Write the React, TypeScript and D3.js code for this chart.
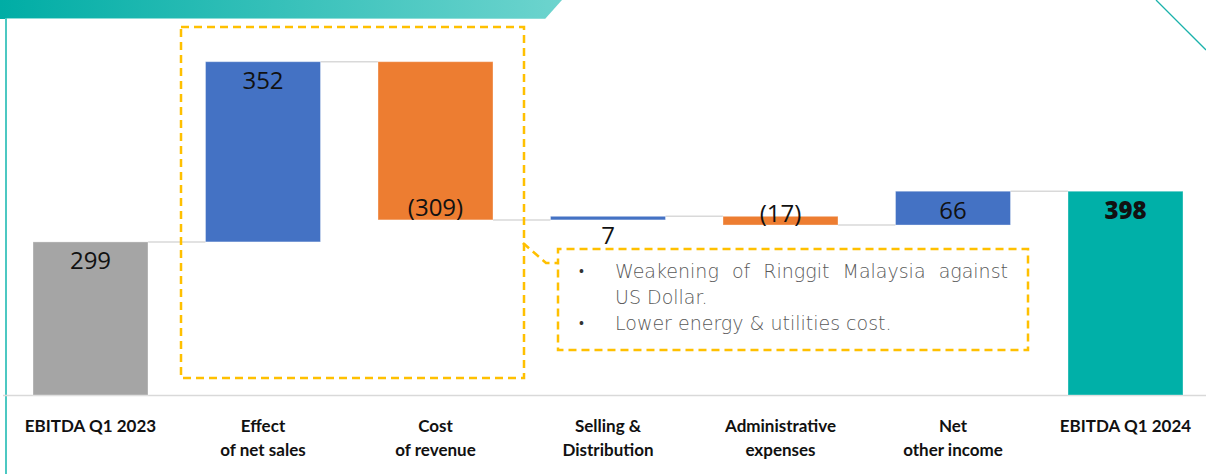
import React, { useRef, useEffect } from 'react';
import * as d3 from 'd3';

// Chart data
const categories = [
  'EBITDA Q1 2023',
  'Effect of net sales',
  'Cost of revenue',
  'Selling & Distribution',
  'Administrative expenses',
  'Net other income',
  'EBITDA Q1 2024'
];
const categoryLines: string[][] = [
  ['EBITDA Q1 2023'],
  ['Effect', 'of net sales'],
  ['Cost', 'of revenue'],
  ['Selling &', 'Distribution'],
  ['Administrative', 'expenses'],
  ['Net', 'other income'],
  ['EBITDA Q1 2024']
];
const values = [299, 352, -309, 7, -17, 66, 398];
const kinds = ['total', 'delta', 'delta', 'delta', 'delta', 'delta', 'total'];
const valueLabels = ['299', '352', '(309)', '7', '(17)', '66', '398'];
const noteLines = [
  { bullet: true, text: 'Weakening of Ringgit Malaysia against', justify: true },
  { bullet: false, text: 'US Dollar.', justify: false },
  { bullet: true, text: 'Lower energy & utilities cost.', justify: false }
];

const WIDTH = 1206;
const HEIGHT = 474;

const colorFor = (kind: string, value: number, i: number): string => {
  if (kind === 'total') return i === 0 ? '#A5A5A5' : '#00B0A8';
  return value >= 0 ? '#4472C4' : '#ED7D31';
};

const App: React.FC = () => {
  const svgRef = useRef<SVGSVGElement>(null);

  useEffect(() => {
    if (!svgRef.current) return;
    const svg = d3.select(svgRef.current);
    svg.selectAll('*').remove();

    // waterfall steps
    let running = 0;
    const steps = values.map((v, i) => {
      let start: number;
      let end: number;
      if (kinds[i] === 'total') {
        start = 0;
        end = v;
        running = v;
      } else {
        start = running;
        end = running + v;
        running = end;
      }
      return { cat: categories[i], start, end, value: v, kind: kinds[i], label: valueLabels[i], i };
    });

    const x = d3.scaleBand<string>()
      .domain(categories)
      .range([4.25, 4.25 + 7 * 172.5])
      .paddingInner(1 / 3)
      .paddingOuter(1 / 6);

    const y = d3.scaleLinear().domain([0, 700]).range([395, 36.6]);

    // banner
    const defs = svg.append('defs');
    const grad = defs.append('linearGradient').attr('id', 'banner').attr('x1', '0%').attr('x2', '100%');
    grad.append('stop').attr('offset', '0%').attr('stop-color', '#00ADA5');
    grad.append('stop').attr('offset', '100%').attr('stop-color', '#6DD4CE');
    svg.append('path')
      .attr('d', 'M0,0 L562,0 L545,19 L0,19 Z')
      .attr('fill', 'url(#banner)');
    svg.append('line')
      .attr('x1', 6).attr('x2', 545).attr('y1', 18.5).attr('y2', 18.5)
      .attr('stroke', '#8EDDD8').attr('stroke-width', 1);

    // left rule and corner line
    svg.append('line')
      .attr('x1', 6).attr('x2', 6).attr('y1', 18).attr('y2', HEIGHT)
      .attr('stroke', '#4CC8C2').attr('stroke-width', 2);
    svg.append('line')
      .attr('x1', 1156).attr('y1', 0).attr('x2', 1206).attr('y2', 50)
      .attr('stroke', '#1AB2AB').attr('stroke-width', 1.3);

    // baseline
    svg.append('line')
      .attr('x1', 3).attr('x2', WIDTH).attr('y1', 395.5).attr('y2', 395.5)
      .attr('stroke', '#D9D9D9').attr('stroke-width', 1.5);

    // connectors
    const g = svg.append('g');
    steps.slice(0, -1).forEach((s, i) => {
      const next = steps[i + 1];
      g.append('line')
        .attr('x1', (x(s.cat) as number) + x.bandwidth())
        .attr('x2', x(next.cat) as number)
        .attr('y1', y(s.end))
        .attr('y2', y(s.end))
        .attr('stroke', '#D9D9D9')
        .attr('stroke-width', 1.5);
    });

    // bars
    g.selectAll('rect.bar')
      .data(steps)
      .join('rect')
      .attr('class', 'bar')
      .attr('x', d => x(d.cat) as number)
      .attr('width', x.bandwidth())
      .attr('y', d => y(Math.max(d.start, d.end)))
      .attr('height', d => Math.abs(y(d.start) - y(d.end)))
      .attr('fill', d => colorFor(d.kind, d.value, d.i))
      .attr('stroke', 'rgba(255,255,255,0.35)')
      .attr('stroke-width', 1);

    // value labels
    g.selectAll('text.val')
      .data(steps)
      .join('text')
      .attr('class', 'val')
      .attr('x', d => (x(d.cat) as number) + x.bandwidth() / 2)
      .attr('y', d => d.value >= 0
        ? y(Math.max(d.start, d.end)) + 18
        : y(Math.min(d.start, d.end)) - 13)
      .attr('text-anchor', 'middle')
      .attr('dominant-baseline', 'central')
      .attr('font-family', '"Open Sans", Lato, sans-serif')
      .attr('font-size', '24px')
      .attr('font-weight', d => d.i === steps.length - 1 ? 800 : 400)
      .attr('fill', '#111')
      .text(d => d.label);

    // category labels
    const catG = svg.append('g');
    categoryLines.forEach((lines, i) => {
      const t = catG.append('text')
        .attr('x', (x(categories[i]) as number) + x.bandwidth() / 2)
        .attr('y', 432)
        .attr('text-anchor', 'middle')
        .attr('font-family', 'Lato, "Open Sans", sans-serif')
        .attr('font-weight', 700)
        .attr('font-size', '17px')
        .attr('fill', '#111');
      lines.forEach((ln, j) => {
        t.append('tspan')
          .attr('x', (x(categories[i]) as number) + x.bandwidth() / 2)
          .attr('dy', j === 0 ? 0 : 24)
          .text(ln);
      });
    });

    // highlight box around the two big movements
    const dash = { stroke: '#FFC000', width: 2.5, dash: '8 5' };
    svg.append('rect')
      .attr('x', 181).attr('y', 27).attr('width', 343).attr('height', 351)
      .attr('fill', 'none')
      .attr('stroke', dash.stroke).attr('stroke-width', dash.width)
      .attr('stroke-dasharray', dash.dash);

    // callout note box
    svg.append('path')
      .attr('d', 'M523,243 L546,263 L558,263 L558,249 L1028,249 L1028,350 L558,350 L558,263')
      .attr('fill', 'none')
      .attr('stroke', dash.stroke).attr('stroke-width', dash.width)
      .attr('stroke-dasharray', dash.dash);

    const noteG = svg.append('g')
      .attr('font-family', '"DejaVu Sans", "Open Sans", sans-serif')
      .attr('font-weight', 300)
      .attr('font-size', '18px')
      .attr('fill', '#595959');
    const texts: d3.Selection<SVGTextElement, unknown, null, undefined>[] = [];
    noteLines.forEach((ln, i) => {
      const cy = 271 + i * 26;
      if (ln.bullet) {
        noteG.append('text')
          .attr('x', 579).attr('y', cy)
          .attr('dominant-baseline', 'central')
          .attr('font-family', '"Open Sans", sans-serif')
          .attr('font-weight', 700)
          .attr('font-size', '13px')
          .attr('fill', '#333')
          .text('•');
      }
      texts.push(noteG.append('text')
        .attr('x', 615).attr('y', cy)
        .attr('dominant-baseline', 'central')
        .text(ln.text));
    });
    // fit the font so the last line spans like the reference, then justify line 1 by word spacing
    const last = texts[2].node() as SVGTextElement;
    const fs = Math.min(19, 18 * 278 / last.getComputedTextLength());
    noteG.attr('font-size', `${fs}px`);
    const first = texts[0].node() as SVGTextElement;
    const natural = first.getComputedTextLength();
    const gaps = noteLines[0].text.split(' ').length - 1;
    if (natural < 393) texts[0].attr('word-spacing', (393 - natural) / gaps);
  }, []);

  return (
    <svg
      ref={svgRef}
      width={WIDTH}
      height={HEIGHT}
      viewBox={`0 0 ${WIDTH} ${HEIGHT}`}
      style={{ position: 'fixed', left: 0, top: 0, background: '#fff' }}
    />
  );
};

export default App;
